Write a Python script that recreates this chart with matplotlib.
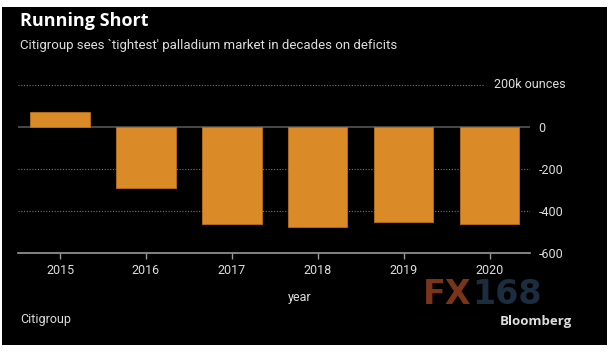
import matplotlib.pyplot as plt
from matplotlib.patches import Rectangle

years = ['2015', '2016', '2017', '2018', '2019', '2020']
balance = [72, -290, -462, -477, -453, -462]  # thousand ounces
yticks = [0, -200, -400, -600]
ytick_labels = ['0', '-200', '-400', '-600']

plt.rcParams['font.family'] = ['Roboto', 'DejaVu Sans']

W, H = 616, 356
fig = plt.figure(figsize=(W / 100, H / 100), dpi=100, facecolor='white')
# black panel inside a thin white border
fig.patches.append(Rectangle((2 / W, 11 / H), 605 / W, 338 / H, transform=fig.transFigure,
                             facecolor='black', edgecolor='none', zorder=-5))

ax = fig.add_axes([18 / W, 103 / H, 512 / W, 168 / H])
ax.set_zorder(2)
ax.set_facecolor('black')
x = range(len(years))
ax.bar(x, balance, width=0.69, color='#da8a26', edgecolor='#b8701c', linewidth=0.6, zorder=3)

ax.set_xlim(-0.49, 5.47)
ax.set_ylim(-600, 200)
for v in [-200, -400]:
    ax.axhline(v, color='#777777', lw=0.8, ls=(0, (1, 1.5)), zorder=1)
ax.axhline(200, xmax=0.91, color='#777777', lw=0.8, ls=(0, (1, 1.5)), zorder=1, clip_on=False)
ax.axhline(0, color='#555555', lw=1.2, zorder=2)
ax.text(1.07, 200, '200k ounces', transform=ax.get_yaxis_transform(), ha='right',
        va='center', color='#dddddd', fontsize=9)

for s in ['top', 'left', 'right']:
    ax.spines[s].set_visible(False)
ax.spines['bottom'].set_color('#999999')
ax.spines['bottom'].set_linewidth(1.2)

ax.set_xticks(list(x))
ax.set_xticklabels(years)
ax.tick_params(axis='x', colors='#999999', labelcolor='#dddddd', labelsize=9,
               length=4, width=1, pad=4)
ax.yaxis.tick_right()
ax.set_yticks(yticks)
ax.set_yticklabels(ytick_labels)
ax.tick_params(axis='y', length=0, labelcolor='#dddddd', labelsize=9, pad=6)

fig.text(20 / W, 1 - 21 / H, 'Running Short', color='white', fontsize=13,
         fontweight='bold', va='center', family=['Open Sans', 'DejaVu Sans'])
fig.text(20 / W, 1 - 45 / H, "Citigroup sees `tightest' palladium market in decades on deficits",
         color='#dddddd', fontsize=9.5, va='center')
fig.text(300 / W, 1 - 298 / H, 'year', color='#dddddd', fontsize=9, ha='center', va='center')
fig.text(20 / W, 1 - 320 / H, 'Citigroup', color='#dddddd', fontsize=9, va='center')
fig.text(572 / W, 1 - 322 / H, 'Bloomberg', color='#dddddd', fontsize=9.5,
         fontweight='bold', ha='right', va='center', family=['Open Sans', 'DejaVu Sans'])
# watermark
fig.text(471 / W, 1 - 295 / H, 'FX', color='#7a3417', fontsize=24, fontweight='bold',
         ha='right', va='center', family=['DejaVu Sans'])
fig.text(472 / W, 1 - 295 / H, '168', color='#1c2d40', fontsize=24, fontweight='bold',
         ha='left', va='center', family=['DejaVu Sans'])

fig.savefig('out.png', dpi=100, facecolor='white')
